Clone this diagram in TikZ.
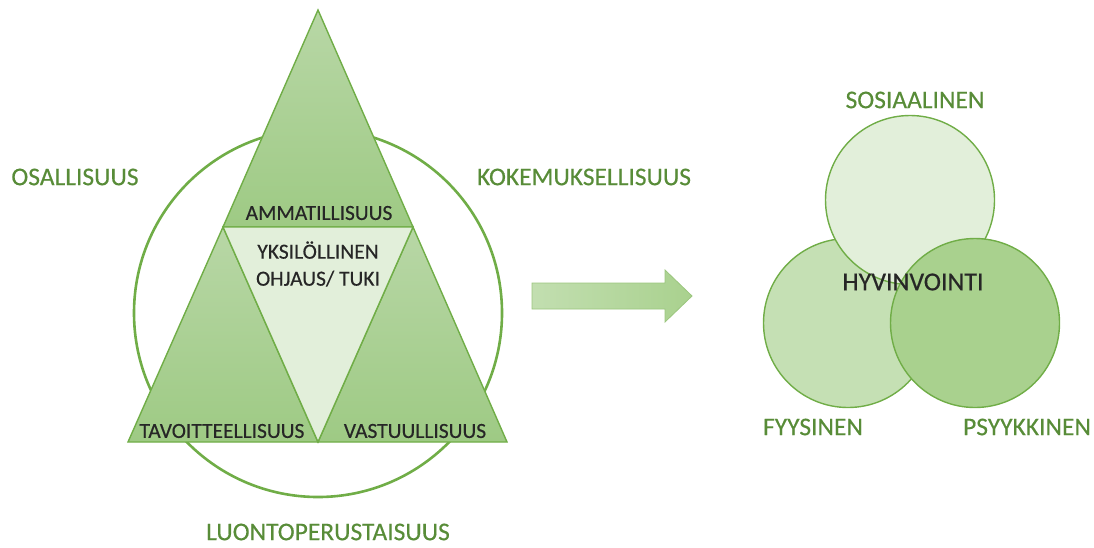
\documentclass[tikz,border=0pt]{standalone}
\usepackage{fontspec}
\setmainfont{Carlito}[FakeBold=0.4]
\usepackage{tikz}
\usetikzlibrary{positioning,calc}
\definecolor{edgeg}{RGB}{112,173,71}
\definecolor{labg}{RGB}{88,140,56}
\definecolor{palg}{RGB}{226,239,218}
\definecolor{midg}{RGB}{197,224,180}
\definecolor{deepg}{RGB}{169,209,142}
\definecolor{tritop}{RGB}{184,215,166}
\definecolor{tribot}{RGB}{158,202,132}
\tikzset{tri/.style={draw=edgeg,line width=1.4pt,top color=tritop,bottom color=tribot},
  inner/.style={draw=edgeg,line width=1.4pt,fill=palg},
  outlab/.style={text=labg,font=\fontsize{25.5}{28}\selectfont,inner sep=0pt},
  inlab/.style={text=black!85,font=\fontsize{21.5}{27}\selectfont,inner sep=0pt,align=center},
  ball/.style={circle,draw=edgeg,line width=1.4pt,minimum size=169pt,inner sep=0pt}}
\begin{document}
\begin{tikzpicture}[x=1pt,y=-1pt]
\useasboundingbox (0,0) rectangle (1094,547);
% vertices of the triangles
\coordinate (apex) at (318,10);
\coordinate (ml) at (223,227);
\coordinate (mr) at (413,227);
\coordinate (bl) at (128,442);
\coordinate (bm) at (318,442);
\coordinate (br) at (507,442);
\draw[edgeg,line width=2.6pt] (318,313) circle[radius=184];
\shade[tri] (apex)--(ml)--(mr)--cycle;
\shade[tri] (ml)--(bl)--(bm)--cycle;
\shade[tri] (mr)--(bm)--(br)--cycle;
\draw[inner] (ml)--(mr)--(bm)--cycle;
\node[inlab] (amm) at (319,213) {AMMATILLISUUS};
\node[inlab] (yks) at (318,264) {YKSILÖLLINEN\\OHJAUS/ TUKI};
\node[inlab] (tav) at (222,431) {TAVOITTEELLISUUS};
\node[inlab] (vas) at (415,431) {VASTUULLISUUS};
\node[outlab] (osa) at (75,177) {OSALLISUUS};
\node[outlab] (kok) at (584,177) {KOKEMUKSELLISUUS};
\node[outlab] (luo) at (328,532) {LUONTOPERUSTAISUUS};
% arrow
\shade[draw=edgeg!70,line width=0.8pt,left color=midg!90!deepg,right color=deepg]
  (532,283)--(665,283)--(665,270)--(692,296)--(665,322)--(665,309)--(532,309)--cycle;
% wellbeing circles
\node[ball,fill=midg] (fyy) at (848,323) {};
\node[ball,fill=palg] (sos) at (910,200) {};
\node[ball,fill=deepg] (psy) at (975,323) {};
\node[inlab,font=\fontsize{26}{30}\selectfont] (hyv) at (913,282) {HYVINVOINTI};
\node[outlab] (sosl) at (915,100) {SOSIAALINEN};
\node[outlab] (fyyl) at (813,427) {FYYSINEN};
\node[outlab] (psyl) at (1027,427) {PSYYKKINEN};
\end{tikzpicture}
\end{document}
